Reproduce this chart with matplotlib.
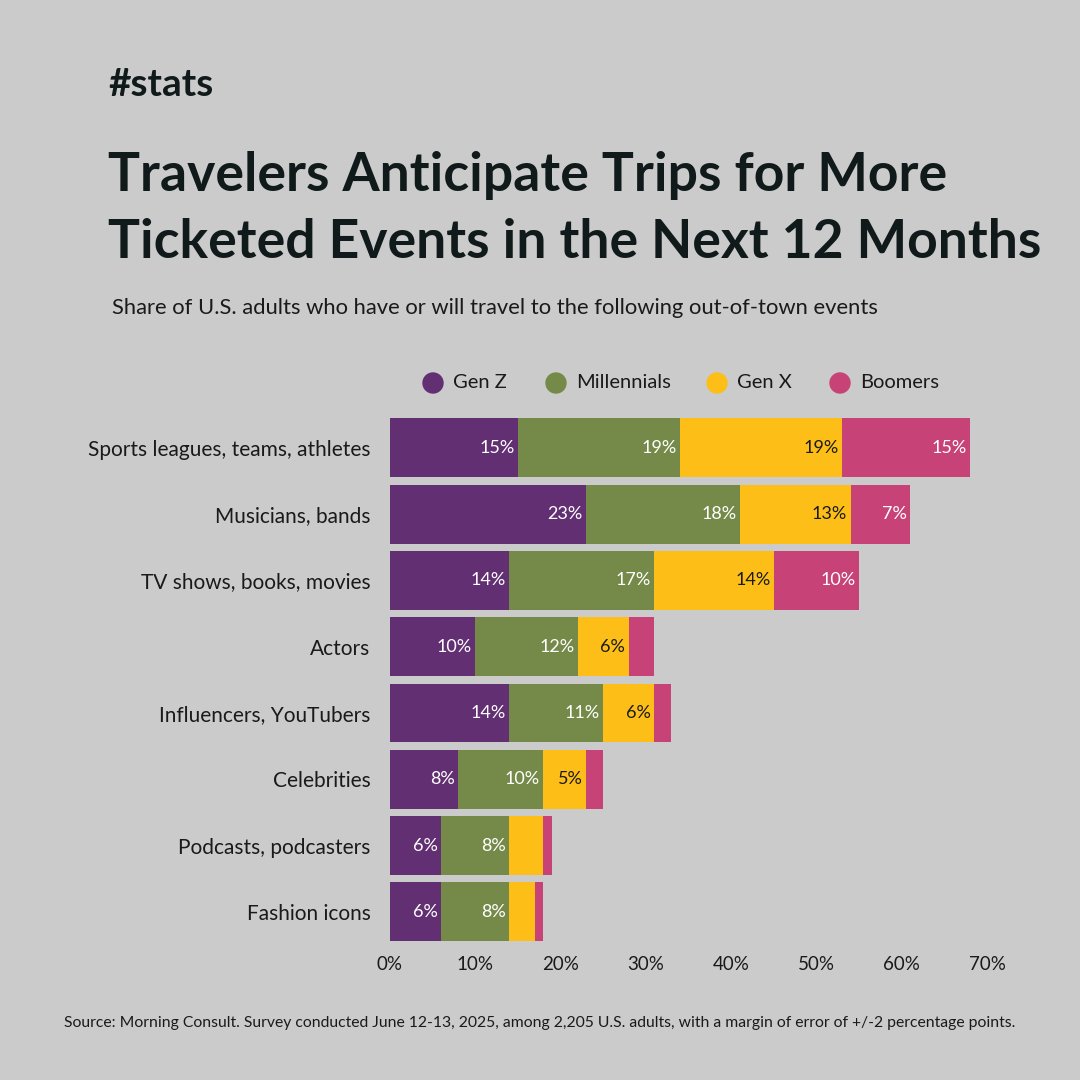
import matplotlib.pyplot as plt

plt.rcParams['font.family'] = ['Lato', 'DejaVu Sans']

categories = ['Sports leagues, teams, athletes', 'Musicians, bands', 'TV shows, books, movies',
              'Actors', 'Influencers, YouTubers', 'Celebrities', 'Podcasts, podcasters', 'Fashion icons']
series = ['Gen Z', 'Millennials', 'Gen X', 'Boomers']
gen_z = [15, 23, 14, 10, 14, 8, 6, 6]
millennials = [19, 18, 17, 12, 11, 10, 8, 8]
gen_x = [19, 13, 14, 6, 6, 5, 4, 3]
boomers = [15, 7, 10, 3, 2, 2, 1, 1]
colors = ['#622F72', '#758A48', '#FDBF17', '#C74276']
text_colors = ['white', 'white', '#1a1a1a', 'white']

bg = '#CBCBCB'
fig = plt.figure(figsize=(10.8, 10.8), dpi=100, facecolor=bg)
ax = fig.add_axes([0.361, 0.125, 0.553, 0.491], facecolor=bg)

y = list(range(len(categories)))
left = [0] * len(categories)
for vals, c, tc, name in zip([gen_z, millennials, gen_x, boomers], colors, text_colors, series):
    ax.barh(y, vals, left=left, color=c, height=0.89, label=name)
    for i, v in enumerate(vals):
        if v >= 5:
            ax.text(left[i] + v - 0.4, i, f'{v}%', ha='right', va='center', color=tc, fontsize=13)
    left = [l + v for l, v in zip(left, vals)]

ax.set_ylim(7.5, -0.5)
ax.set_xlim(0, 70)
ax.set_yticks(y)
ax.set_yticklabels(categories, fontsize=15, color='#1a1a1a')
ax.set_xticks(range(0, 71, 10))
ax.set_xticklabels([f'{t}%' for t in range(0, 71, 10)], fontsize=13.5, color='#1a1a1a')
ax.tick_params(length=0, pad=14)
ax.tick_params(axis='x', pad=8)
for s in ax.spines.values():
    s.set_visible(False)

# legend drawn by hand
circle_x = [433, 556, 717, 840]
for x, c, name in zip(circle_x, colors, series):
    fig.patches.append(plt.Circle((x / 1080, 1 - 383 / 1080), 10 / 1080, color=c,
                                  transform=fig.transFigure, figure=fig))
    fig.text((x + 20) / 1080, 1 - 383 / 1080, name, fontsize=14.5, color='#1a1a1a', va='center')

fig.text(0.1, 1 - 85 / 1080, '#stats', fontsize=28, fontweight='bold', color='#111a1a', va='center')
fig.text(0.1, 1 - 176 / 1080, 'Travelers Anticipate Trips for More', fontsize=38.5, fontweight='bold',
         color='#111a1a', va='center')
fig.text(0.1, 1 - 242 / 1080, 'Ticketed Events in the Next 12 Months', fontsize=38.5, fontweight='bold',
         color='#111a1a', va='center')
fig.text(0.104, 1 - 308 / 1080, 'Share of U.S. adults who have or will travel to the following out-of-town events',
         fontsize=15.8, color='#1a1a1a', va='center')
fig.text(0.5, 1 - 1023 / 1080,
         'Source: Morning Consult. Survey conducted June 12-13, 2025, among 2,205 U.S. adults, with a margin of error of +/-2 percentage points.',
         fontsize=11.3, color='#1a1a1a', ha='center', va='center')

fig.savefig('out.png', dpi=100, facecolor=bg)
